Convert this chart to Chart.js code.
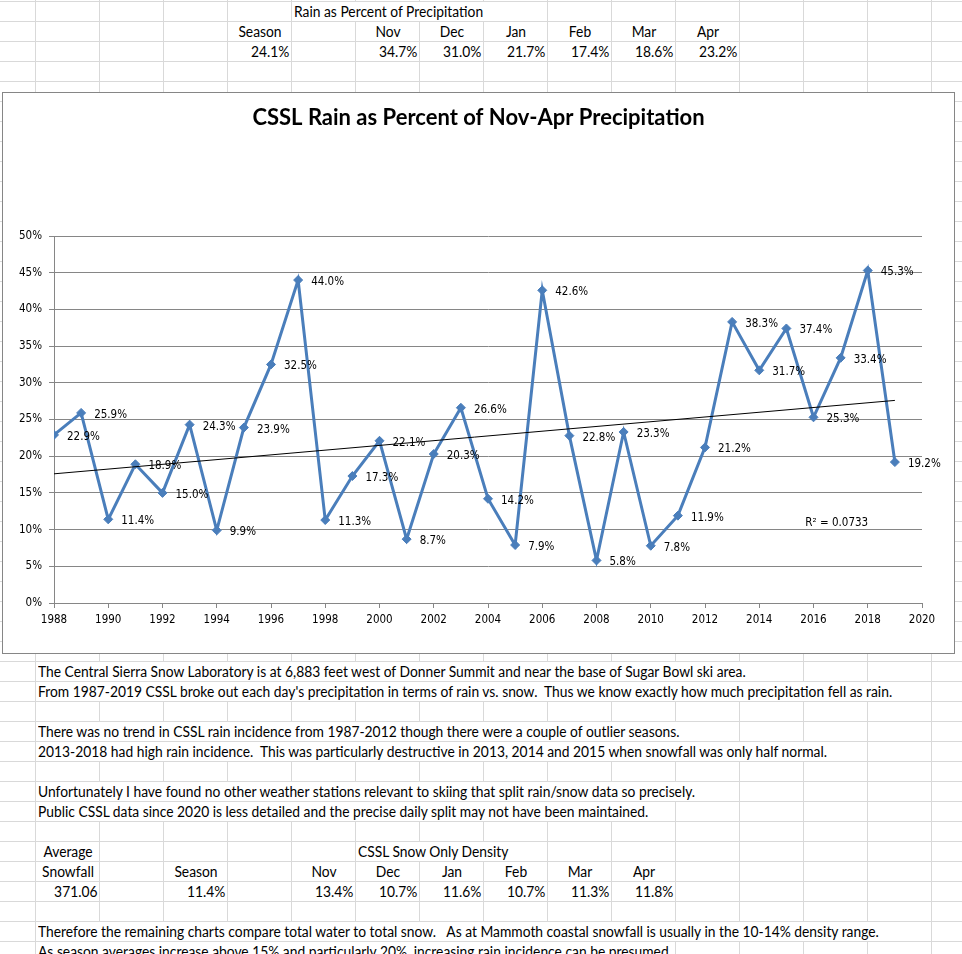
<!DOCTYPE html>
<html>
<head>
<meta charset="utf-8">
<script src="https://cdn.jsdelivr.net/npm/chart.js@4.4.1/dist/chart.umd.min.js"></script>
<style>
html, body { margin: 0; padding: 0; }
body {
  width: 962px; height: 954px; overflow: hidden; position: relative; background: #fff;
  background-image: linear-gradient(to right, #d9d9d9 1px, transparent 1px),
                    linear-gradient(to bottom, #d9d9d9 1px, transparent 1px);
  background-size: 64px 20px;
  background-position: 35px 1px;
}
.cell { position: absolute; height: 19px; white-space: pre; color: #000;
  font: 14.5px Lato, "Open Sans", sans-serif; line-height: 19px; }
.cell span { position: absolute; top: 0; }
#box { position: absolute; left: 2px; top: 92px; width: 951px; height: 560px;
  border: 1px solid #868686; background: #fff; }
</style>
</head>
<body>
<div id="box"><canvas id="chart" width="951" height="560"></canvas></div>
<script>
// ---------------------
// SHEET DATA
// ---------------------
const rainTitle = 'Rain as Percent of Precipitation';
const months = ['Nov', 'Dec', 'Jan', 'Feb', 'Mar', 'Apr'];
const rainSeasonPct = '24.1%';
const rainMonthPct = ['34.7%', '31.0%', '21.7%', '17.4%', '18.6%', '23.2%'];

const densityTitle = 'CSSL Snow Only Density';
const avgSnowfall = '371.06';
const densitySeasonPct = '11.4%';
const densityMonthPct = ['13.4%', '10.7%', '11.6%', '10.7%', '11.3%', '11.8%'];

const notes = [
  [33, 'The Central Sierra Snow Laboratory is at 6,883 feet west of Donner Summit and near the base of Sugar Bowl ski area.'],
  [34, "From 1987-2019 CSSL broke out each day's precipitation in terms of rain vs. snow.  Thus we know exactly how much precipitation fell as rain."],
  [36, 'There was no trend in CSSL rain incidence from 1987-2012 though there were a couple of outlier seasons.'],
  [37, '2013-2018 had high rain incidence.  This was particularly destructive in 2013, 2014 and 2015 when snowfall was only half normal.'],
  [39, 'Unfortunately I have found no other weather stations relevant to skiing that split rain/snow data so precisely.'],
  [40, 'Public CSSL data since 2020 is less detailed and the precise daily split may not have been maintained.'],
  [46, 'Therefore the remaining charts compare total water to total snow.   As at Mammoth coastal snowfall is usually in the 10-14% density range.'],
  [47, 'As season averages increase above 15% and particularly 20%, increasing rain incidence can be presumed.']
];

// ---------------------
// CHART DATA
// ---------------------
const years = [1988, 1989, 1990, 1991, 1992, 1993, 1994, 1995, 1996, 1997, 1998, 1999, 2000, 2001, 2002, 2003,
               2004, 2005, 2006, 2007, 2008, 2009, 2010, 2011, 2012, 2013, 2014, 2015, 2016, 2017, 2018, 2019];
const rainPct = [22.9, 25.9, 11.4, 18.9, 15.0, 24.3, 9.9, 23.9, 32.5, 44.0, 11.3, 17.3, 22.1, 8.7, 20.3, 26.6,
                 14.2, 7.9, 42.6, 22.8, 5.8, 23.3, 7.8, 11.9, 21.2, 38.3, 31.7, 37.4, 25.3, 33.4, 45.3, 19.2];
const trendYears = [1988, 2019];
const trendPct = [17.6, 27.6];
const xTickValues = [1988, 1990, 1992, 1994, 1996, 1998, 2000, 2002, 2004, 2006, 2008, 2010, 2012, 2014, 2016, 2018, 2020];
const yTickValues = [0, 5, 10, 15, 20, 25, 30, 35, 40, 45, 50];
const r2Text = 'R\u00b2 = 0.0733';
const r2At = [2015.7, 10.9];

// ---------------------
// SHEET CELLS
// ---------------------
const cellFont = '14.5px Lato';
const mctx = document.createElement('canvas').getContext('2d');
mctx.font = cellFont;
const fitK = 710 / mctx.measureText(notes[0][1]).width;

function cell(row, col, text, align) {
  const d = document.createElement('div');
  d.className = 'cell';
  let span = 1;
  if (align === 'l') {
    // overflowing text hides the grid lines of the cells it runs into
    span = Math.max(1, Math.ceil((mctx.measureText(text).width * fitK + 4) / 64));
    d.style.background = '#fff';
  }
  d.style.left = (35 + 64 * (col - 1) + 1) + 'px';
  d.style.top = (row * 20 + 2) + 'px';
  d.style.width = (64 * span - 1) + 'px';
  const s = document.createElement('span');
  s.textContent = text;
  if (align === 'l') { s.style.left = '2px'; s.style.transformOrigin = 'left'; s.style.transform = 'scaleX(' + fitK + ')'; }
  if (align === 'r') { s.style.right = '2px'; s.style.transformOrigin = 'right'; s.style.transform = 'scaleX(' + fitK + ')'; }
  if (align === 'c') { s.style.left = '50%'; s.style.transformOrigin = 'center'; s.style.transform = 'translateX(-50%) scaleX(' + fitK + ')'; }
  d.appendChild(s);
  document.body.insertBefore(d, document.getElementById('box'));
}

cell(0, 5, rainTitle, 'l');
cell(1, 4, 'Season', 'c');
cell(2, 4, rainSeasonPct, 'r');
months.forEach((m, i) => { cell(1, 6 + i, m, 'c'); cell(2, 6 + i, rainMonthPct[i], 'r'); });

notes.forEach(([row, text]) => cell(row, 1, text, 'l'));

cell(42, 1, 'Average', 'c');
cell(42, 6, densityTitle, 'l');
cell(43, 1, 'Snowfall', 'c');
cell(44, 1, avgSnowfall, 'r');
cell(43, 3, 'Season', 'c');
cell(44, 3, densitySeasonPct, 'r');
months.forEach((m, i) => { cell(43, 5 + i, m, 'c'); cell(44, 5 + i, densityMonthPct[i], 'r'); });

// ---------------------
// CHART JS
// ---------------------
const tickFont = { family: '"DejaVu Sans Condensed", "DejaVu Sans"', size: 11.5 };

const pointLabels = {
  id: 'pointLabels',
  afterLayout(chart) {
    // centre the title on the whole chart box, not on the padded area
    if (chart.titleBlock) { chart.titleBlock.left = 0; chart.titleBlock.right = chart.width; }
  },
  afterDatasetsDraw(chart) {
    const ctx = chart.ctx;
    const meta = chart.getDatasetMeta(1);
    ctx.save();
    ctx.font = '11.5px "DejaVu Sans Condensed", "DejaVu Sans"';
    ctx.fillStyle = '#000';
    ctx.textAlign = 'left';
    ctx.textBaseline = 'middle';
    meta.data.forEach((el, i) => {
      ctx.fillText(rainPct[i].toFixed(1) + '%', el.x + 13, el.y + 2);
    });
    ctx.fillText(r2Text, chart.scales.x.getPixelForValue(r2At[0]), chart.scales.y.getPixelForValue(r2At[1]));
    ctx.restore();
  }
};

new Chart(document.getElementById('chart'), {
  type: 'line',
  data: {
    datasets: [{
      label: 'Linear trend',
      data: trendYears.map((x, i) => ({ x: x, y: trendPct[i] })),
      borderColor: '#000',
      borderWidth: 1,
      pointRadius: 0,
      fill: false
    }, {
      label: 'Rain as Percent',
      data: years.map((x, i) => ({ x: x, y: rainPct[i] })),
      borderColor: '#4A7EBB',
      backgroundColor: '#4A7EBB',
      borderWidth: 3,
      pointStyle: 'rectRot',
      pointRadius: 4.5,
      pointBorderWidth: 1,
      tension: 0,
      fill: false
    }]
  },
  options: {
    responsive: false,
    animation: false,
    layout: { padding: { left: 0, right: 32, top: 0, bottom: 20 } },
    plugins: {
      legend: { display: false },
      tooltip: { enabled: false },
      title: {
        display: true,
        text: 'CSSL Rain as Percent of Nov-Apr Precipitation',
        color: '#000',
        font: { family: 'Lato', size: 22, weight: 'bold' },
        padding: { top: 12, bottom: 104.6 }
      }
    },
    scales: {
      x: {
        type: 'linear', min: 1988, max: 2020,
        afterBuildTicks: s => { s.ticks = xTickValues.map(v => ({ value: v })); },
        afterFit: s => { s.height = 30; },
        ticks: { callback: v => String(v), font: tickFont, color: '#000', padding: 5, maxRotation: 0, autoSkip: false },
        grid: { drawOnChartArea: false, tickLength: 5, color: '#868686' },
        border: { color: '#868686' }
      },
      y: {
        min: 0, max: 50,
        afterBuildTicks: s => { s.ticks = yTickValues.map(v => ({ value: v })); },
        afterFit: s => { s.width = 51; },
        ticks: { callback: v => v + '%', font: tickFont, color: '#000', padding: 7 },
        grid: { color: '#868686', tickLength: 5 },
        border: { color: '#868686' }
      }
    }
  },
  plugins: [pointLabels]
});
</script>
</body>
</html>
